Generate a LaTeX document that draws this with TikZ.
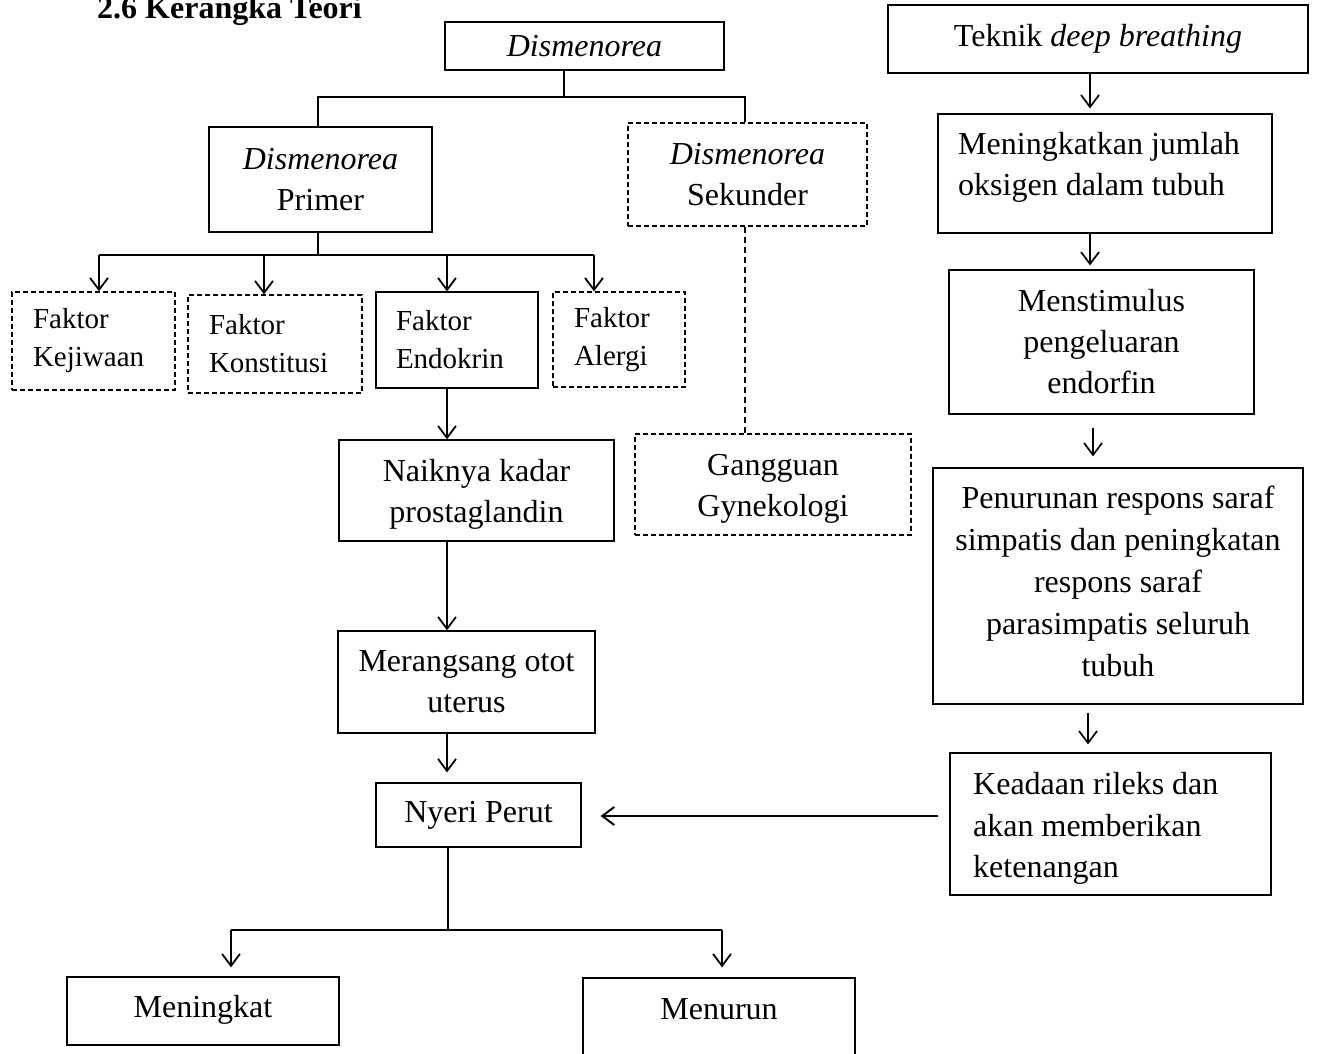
\documentclass[tikz,border=0pt]{standalone}
\usepackage{fontspec}
\setmainfont{Liberation Serif}
\usetikzlibrary{arrows.meta}
\begin{document}
\begin{tikzpicture}[x=1pt,y=-1pt,
  box/.style={draw, line width=1.2pt, rectangle, inner sep=0pt,
    font=\fontsize{32}{41}\selectfont, align=center},
  dashedbox/.style={dash pattern=on 5pt off 3pt},
  faktor/.style={box, font=\fontsize{29}{38}\selectfont, align=left},
  txt/.style={inner sep=0pt, font=\fontsize{32}{41}\selectfont},
  conn/.style={line width=1.8pt},
  arr/.style={line width=1.8pt, -{Straight Barb[length=12pt,width=18pt]}},
  rarr/.style={line width=1.7pt, -{Straight Barb[length=12pt,width=18pt]}},
]
\useasboundingbox (0,0) rectangle (1318,1053);
\clip (0,0) rectangle (1318,1053);

% title
\node[anchor=base west, inner sep=0pt, font=\bfseries\fontsize{32}{38}\selectfont] (title) at (97,18) {2.6 Kerangka Teori};

% left column boxes
\node[box, minimum width=279pt, minimum height=48pt] (dis) at (584.5,46) {\textit{Dismenorea}};
\node[box, minimum width=223pt, minimum height=105pt] (primer) at (320.5,179.5) {\textit{Dismenorea}\\Primer};
\node[box, dashedbox, minimum width=239pt, minimum height=103pt] (sek) at (747.5,174.5) {\textit{Dismenorea}\\Sekunder};

\node[faktor, dashedbox, text width=121pt, inner xsep=21pt, minimum height=98pt] (kej) at (93.5,341) {Faktor\\Kejiwaan};
\node[faktor, dashedbox, text width=132pt, inner xsep=21pt, minimum height=98pt] (kon) at (275,344) {Faktor\\Konstitusi};
\node[faktor, text width=122pt, inner xsep=20pt, minimum height=96pt] (endo) at (457,340) {Faktor\\Endokrin};
\node[faktor, dashedbox, text width=90pt, inner xsep=21pt, minimum height=95pt] (aler) at (619,339.5) {Faktor\\Alergi};

\node[box, minimum width=275pt, minimum height=101pt] (naik) at (476.5,490.5) {};
\node[txt, align=center] (naikt) at (476.5,494) {Naiknya kadar\\prostaglandin};
\node[box, minimum width=257pt, minimum height=102pt] (mer) at (466.5,682) {Merangsang otot\\uterus};
\node[box, minimum width=205pt, minimum height=64pt] (nyeri) at (478.5,815) {Nyeri Perut};
\node[box, minimum width=272pt, minimum height=68pt] (ming) at (203,1011) {};
\node[txt] (mingt) at (203,1010) {Meningkat};
\node[box, minimum width=272pt, minimum height=86pt] (menu) at (719,1021) {};
\node[txt] (menut) at (719,1009) {Menurun};
\node[box, dashedbox, minimum width=276pt, minimum height=101pt] (gang) at (773,484.5) {};
\node[txt, align=center] (gangt) at (773,488.5) {Gangguan\\Gynekologi};

% right column boxes
\node[box, minimum width=420pt, minimum height=68pt] (tek) at (1098,39) {};
\node[txt] (tekt) at (1098,39) {Teknik \textit{deep breathing}};
\node[box, minimum width=334pt, minimum height=119pt] (mjo) at (1105,173.5) {};
\node[txt, align=left, anchor=west] (mjot) at (958,167.5) {Meningkatkan jumlah\\oksigen dalam tubuh};
\node[box, minimum width=305pt, minimum height=144pt] (mst) at (1101.5,342) {Menstimulus\\pengeluaran\\endorfin};
\node[box, minimum width=370pt, minimum height=236pt] (pen) at (1118,586) {};
\node[txt, align=center, font=\fontsize{32}{42}\selectfont] (pent) at (1118,581) {Penurunan respons saraf\\simpatis dan peningkatan\\respons saraf\\parasimpatis seluruh\\tubuh};
\node[box, minimum width=321pt, minimum height=142pt] (kea) at (1110.5,824) {};
\node[txt, align=left, anchor=west, font=\fontsize{32}{41.5}\selectfont] (keat) at (973,828.5) {Keadaan rileks dan\\akan memberikan\\ketenangan};

% connectors: Dismenorea split
\coordinate (j0) at (564,97);
\coordinate (jl) at (318,97);
\coordinate (jr) at (745,97);
\draw[conn] (j0 |- dis.south) -- (j0);
\draw[conn] (jl |- primer.north) -- (jl) -- (jr) -- (jr |- sek.north);

% Primer to factors
\coordinate (j1) at (318,255);
\coordinate (f1) at (99,255);
\coordinate (f2) at (264,255);
\coordinate (f3) at (447,255);
\coordinate (f4) at (594,255);
\draw[conn] (j1 |- primer.south) -- (j1);
\draw[conn] (f1) -- (f4);
\draw[arr] (f1) -- (f1 |- kej.north);
\draw[arr] (f2) -- (f2 |- kon.north);
\draw[arr] (f3) -- (f3 |- endo.north);
\draw[arr] (f4) -- (f4 |- aler.north);

% chain
\draw[arr] (f3 |- endo.south) -- (f3 |- naik.north);
\draw[arr] (f3 |- naik.south) -- (f3 |- mer.north);
\draw[arr, shorten >=10pt] (f3 |- mer.south) -- (f3 |- nyeri.north);

% Sekunder to Gangguan
\draw[line width=1.2pt, dash pattern=on 6pt off 4pt] (jr |- sek.south) -- (jr |- gang.north);

% Nyeri split
\coordinate (n0) at (448,930);
\coordinate (b1) at (231,930);
\coordinate (b2) at (722,930);
\draw[line width=1.3pt] (n0 |- nyeri.south) -- (n0);
\draw[conn] (b1) -- (b2);
\draw[arr, shorten >=9pt] (b1) -- (b1 |- ming.north);
\draw[arr, shorten >=10pt] (b2) -- (b2 |- menu.north);

% Keadaan to Nyeri
\coordinate (h) at (0,816);
\draw[arr, line width=2pt, shorten <=11pt, shorten >=19pt] (h -| kea.west) -- (h -| nyeri.east);

% right column arrows
\coordinate (r1) at (1090,0);
\coordinate (r2) at (1093,0);
\coordinate (r3) at (1088,0);
\draw[rarr, shorten >=5pt] (r1 |- tek.south) -- (r1 |- mjo.north);
\draw[rarr, shorten >=4pt] (r1 |- mjo.south) -- (r1 |- mst.north);
\draw[rarr, shorten <=13pt, shorten >=11pt] (r2 |- mst.south) -- (r2 |- pen.north);
\draw[rarr, shorten <=8pt, shorten >=8pt] (r3 |- pen.south) -- (r3 |- kea.north);
\end{tikzpicture}
\end{document}
